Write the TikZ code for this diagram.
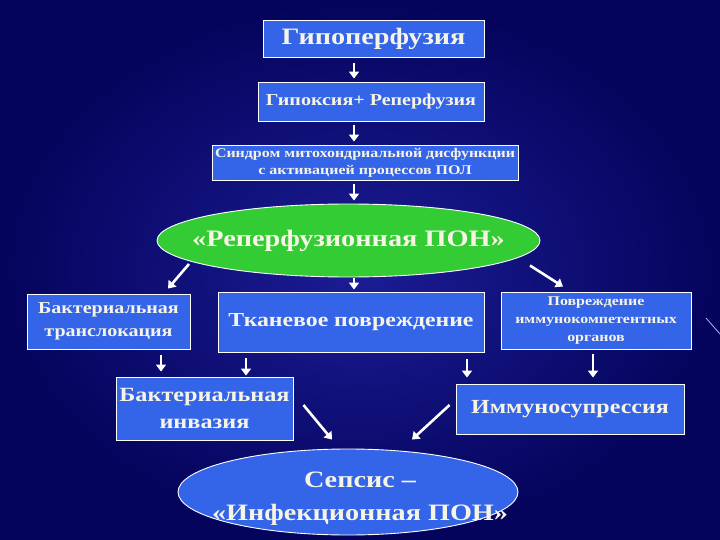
\documentclass[tikz,border=0pt]{standalone}
\usepackage{fontspec}
\setmainfont[FakeStretch=1.2]{Liberation Serif}
\usetikzlibrary{arrows.meta,shapes.geometric,calc}
\definecolor{bgin}{RGB}{28,28,150}
\definecolor{bgout}{RGB}{4,4,92}
\definecolor{boxblue}{RGB}{52,100,232}
\definecolor{ongreen}{RGB}{52,204,52}
\definecolor{txt}{RGB}{246,244,228}
\tikzset{
  bx/.style={draw=white, line width=0.9pt, fill=boxblue, text=txt, font=\bfseries, align=center, inner sep=1pt},
  ell/.style={ellipse, draw=white, line width=0.9pt, inner sep=0pt},
  etxt/.style={text=txt, align=center, inner sep=0pt},
  arr/.style={draw=white, line width=2.6pt, -{Triangle[length=7pt,width=10pt]}},
}
\newcommand{\fsz}[2]{\bfseries\fontsize{#1}{#2}\selectfont}
\begin{document}
\begin{tikzpicture}[x=1pt,y=-1pt]
\shade[inner color=bgin, outer color=bgout] (0,0) rectangle (720,540);
\useasboundingbox (0,0) rectangle (720,540);
\draw[white!70!blue, line width=0.8pt] (706,318) -- (720,334);

\node[bx, minimum width=221pt, minimum height=37pt, font=\fsz{23.5}{27}] (b1) at (373.5,38.5) {Гипоперфузия};
\node[bx, minimum width=226pt, minimum height=39pt, font=\fsz{16.7}{19}] (b2) at (371,101.5) {Гипоксия+ Реперфузия};
\node[bx, minimum width=306pt, minimum height=35pt, font=\fsz{13.3}{17}] (b3) at (365,162.5) {Синдром митохондриальной дисфункции\\с активацией процессов ПОЛ};
\node[ell, fill=ongreen, minimum width=383pt, minimum height=73pt] (e1) at (348.5,240.5) {};
\node[etxt, font=\fsz{23.6}{27}] (e1t) at (e1.center) {«Реперфузионная ПОН»};

\node[bx, minimum width=163pt, minimum height=55pt, font=\fsz{16.7}{23}] (bl) at (108.5,321.5) {Бактериальная\\транслокация};
\node[bx, minimum width=266pt, minimum height=60pt, font=\fsz{19.8}{23}] (bm) at (351,322) {Тканевое повреждение};
\node[bx, minimum width=190pt, minimum height=57pt, font=\fsz{13.3}{18}] (br) at (596,320.5) {Повреждение\\иммунокомпетентных\\органов};

\node[bx, minimum width=177pt, minimum height=63pt, font=\fsz{20.2}{27}] (bi) at (204.5,408.5) {Бактериальная\\инвазия};
\node[bx, minimum width=228pt, minimum height=50pt, font=\fsz{20}{23}] (bs) at (570,409) {Иммуносупрессия};

\node[ell, fill=boxblue, minimum width=340pt, minimum height=86pt] (e2) at (348,492) {};
\node[etxt, font=\fsz{23.5}{33}] (e2t) at ($(e2.center)+(12,7)$) {Сепсис –\\«Инфекционная ПОН»};

\draw[arr] ($(b1.south)+(-19.5,6)$) -- ($(b2.north)+(-17,-3)$);
\draw[arr] ($(b2.south)+(-17,4)$) -- ($(b3.north)+(-11,-3)$);
\draw[arr] ($(b3.south)+(-11,4)$) -- ($(e1.north)+(5.5,-3)$);
\draw[arr] ($(e1.center)+(-159.5,23.5)$) -- ($(bl.north)+(59.5,-5)$);
\draw[arr] ($(e1.south)+(5.5,1)$) -- ($(bm.north)+(3,-2)$);
\draw[arr] ($(e1.center)+(181.5,25)$) -- ($(br.north)+(-33,-5)$);

\draw[arr] ($(bl.south)+(52.5,6)$) -- ($(bi.north)+(-43.5,-5)$);
\draw[arr] ($(bm.south)+(-105,6)$) -- ($(bi.north)+(41.5,-1)$);
\draw[arr] ($(bm.south)+(116,7)$) -- ($(bs.north)+(-103,-6)$);
\draw[arr] ($(br.south)+(-3,5)$) -- ($(bs.north)+(23,-6)$);

\draw[arr] ($(bi.east)+(10,-3.5)$) -- ($(e2.north)+(-16,-9)$);
\draw[arr] ($(bs.west)+(-6,-4)$) -- ($(e2.north)+(64,-9)$);
\end{tikzpicture}
\end{document}
